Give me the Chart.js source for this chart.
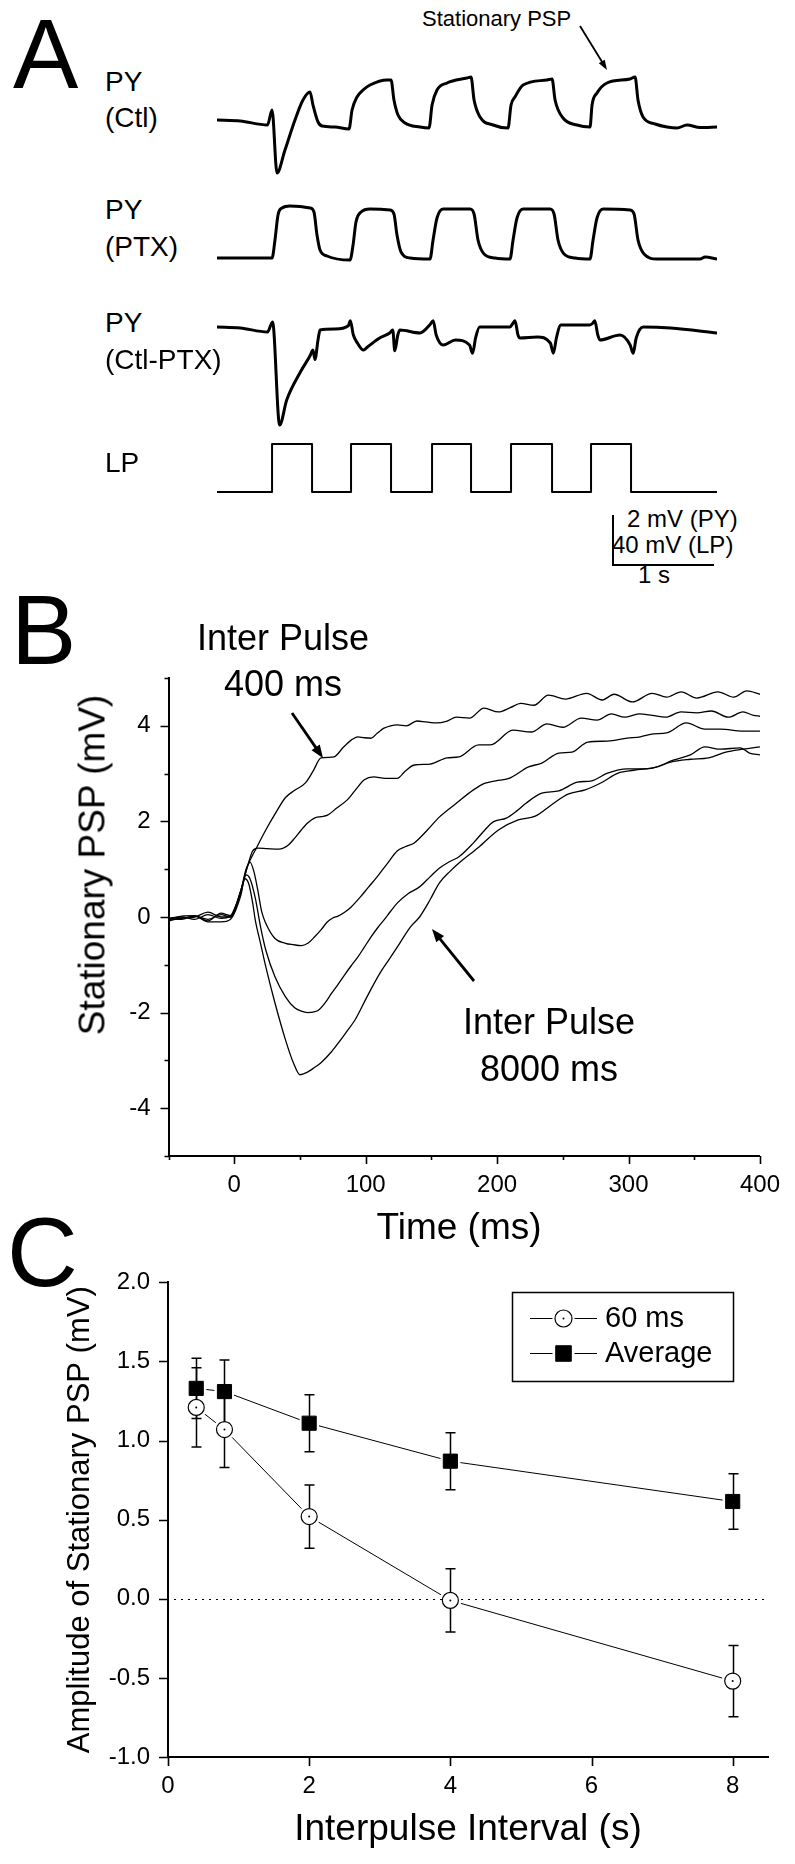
<!DOCTYPE html>
<html>
<head>
<meta charset="utf-8">
<script src="https://cdn.jsdelivr.net/npm/chart.js@4.4.0/dist/chart.umd.min.js"></script>
<style>
html,body{margin:0;padding:0;background:#fff;}
body{width:795px;height:1864px;position:relative;overflow:hidden;font-family:"Liberation Sans",Arial,Helvetica,sans-serif;color:#000;}
canvas{position:absolute;}
.t{position:absolute;white-space:nowrap;line-height:1;}
.c{transform:translateX(-50%);}
svg{position:absolute;left:0;top:0;}
</style>
</head>
<body>
<canvas id="aCtl" width="510" height="125" style="left:212px;top:65px"></canvas>
<canvas id="aPtx" width="510" height="85" style="left:212px;top:193px"></canvas>
<canvas id="aDiff" width="510" height="135" style="left:212px;top:302px"></canvas>
<canvas id="aLp" width="510" height="70" style="left:212px;top:432px"></canvas>
<canvas id="chartB" width="795" height="650" style="left:0;top:600px"></canvas>
<canvas id="chartC" width="795" height="614" style="left:0;top:1250px"></canvas>

<div class="t" style="left:13px;top:5px;font-size:98px">A</div>
<div class="t" style="left:11px;top:581px;font-size:98px">B</div>
<div class="t" style="left:7px;top:1203px;font-size:98px">C</div>

<div class="t" style="left:105px;top:68px;font-size:28px">PY</div>
<div class="t" style="left:105px;top:104px;font-size:28px">(Ctl)</div>
<div class="t" style="left:105px;top:196px;font-size:28px">PY</div>
<div class="t" style="left:105px;top:233px;font-size:28px">(PTX)</div>
<div class="t" style="left:105px;top:309px;font-size:28px">PY</div>
<div class="t" style="left:105px;top:346px;font-size:28px">(Ctl-PTX)</div>
<div class="t" style="left:105px;top:449px;font-size:28px">LP</div>
<div class="t" style="left:422px;top:8px;font-size:22px">Stationary PSP</div>
<div class="t" style="left:627px;top:507px;font-size:24px">2 mV (PY)</div>
<div class="t" style="left:612px;top:533px;font-size:24px">40 mV (LP)</div>
<div class="t" style="left:638px;top:563px;font-size:24px">1 s</div>

<div class="t c" style="left:283px;top:620px;font-size:36px">Inter Pulse</div>
<div class="t c" style="left:283px;top:666px;font-size:36px">400 ms</div>
<div class="t c" style="left:549px;top:1004px;font-size:36px">Inter Pulse</div>
<div class="t c" style="left:549px;top:1051px;font-size:36px">8000 ms</div>
<div class="t" style="left:92px;top:865px;font-size:37px;transform:translate(-50%,-50%) rotate(-90deg)">Stationary PSP (mV)</div>
<div class="t c" style="left:459px;top:1208px;font-size:37px">Time (ms)</div>

<svg id="ov" width="795" height="1864"></svg>

<script>
// ================= DATA =================
// Panel A traces: [time (s), potential (mV, relative to rest)]
const TRACE_END = 4.95;
const pyCtl = [[0,0],[0.23,-0.04],[0.5,-0.2],[0.545,0.4],[0.594,-2.12],[0.673,-1.2],[0.772,0],[0.851,0.8],[0.921,1.12],[0.95,0.6],[1.0,-0.08],[1.04,-0.24],[1.168,-0.28],[1.307,-0.36],[1.337,0.4],[1.386,0.92],[1.446,1.2],[1.515,1.4],[1.683,1.6],[1.723,1.6],[1.752,0.8],[1.792,0.2],[1.861,-0.12],[2.01,-0.28],[2.099,-0.32],[2.129,0.6],[2.178,1.2],[2.277,1.48],[2.475,1.68],[2.515,1.72],[2.545,0.8],[2.604,0.12],[2.733,-0.2],[2.881,-0.32],[2.911,0.6],[2.95,0.92],[3.03,1.4],[3.267,1.6],[3.317,1.64],[3.347,0.8],[3.426,0.08],[3.564,-0.2],[3.693,-0.28],[3.713,0.6],[3.762,1.08],[3.861,1.48],[4.089,1.64],[4.139,1.72],[4.168,0.8],[4.218,0.12],[4.337,-0.16],[4.455,-0.28],[4.554,-0.32],[4.653,-0.2],[4.782,-0.3],[4.95,-0.28]];
const pyPtx = [[0,0],[0.545,0],[0.574,0.72],[0.604,1.72],[0.644,2.0],[0.723,2.08],[0.921,2.0],[0.96,1.84],[0.99,0.92],[1.02,0.32],[1.089,0.08],[1.317,-0.08],[1.347,0.52],[1.376,1.44],[1.426,1.84],[1.515,1.96],[1.713,1.92],[1.752,1.76],[1.782,0.92],[1.822,0.24],[1.911,0],[2.109,-0.04],[2.139,0.72],[2.178,1.6],[2.238,1.96],[2.505,1.96],[2.545,1.76],[2.584,0.72],[2.644,0.16],[2.752,0],[2.901,-0.04],[2.931,0.72],[2.97,1.6],[3.03,1.96],[3.297,1.96],[3.337,1.76],[3.376,0.72],[3.436,0.16],[3.545,0],[3.693,-0.04],[3.723,0.72],[3.762,1.6],[3.822,1.96],[4.089,1.92],[4.129,1.76],[4.168,0.72],[4.228,0.16],[4.356,-0.04],[4.782,-0.04],[4.832,0.04],[4.95,-0.04]];
const pyDiff = [[0,0],[0.23,-0.04],[0.5,-0.2],[0.55,0.2],[0.62,-3.92],[0.69,-2.92],[0.82,-1.84],[0.92,-1.16],[0.95,-0.92],[0.97,-1.3],[1.0,-0.52],[1.02,-0.12],[1.17,-0.08],[1.3,0.05],[1.32,0.25],[1.35,-0.32],[1.39,-0.64],[1.45,-0.92],[1.49,-0.8],[1.61,-0.44],[1.71,-0.24],[1.74,-0.12],[1.76,-0.95],[1.79,-0.32],[1.81,-0.12],[2.01,-0.24],[2.11,0.1],[2.14,0.25],[2.17,-0.32],[2.24,-0.72],[2.36,-0.52],[2.5,-0.72],[2.53,-1.05],[2.56,-0.44],[2.6,0],[2.9,0],[2.93,0.15],[2.95,0.25],[2.98,-0.32],[3.0,-0.44],[3.17,-0.4],[3.3,-0.64],[3.33,-1.05],[3.36,-0.44],[3.4,0.08],[3.69,0.08],[3.72,0.15],[3.74,0.25],[3.77,-0.32],[3.79,-0.52],[3.99,-0.32],[4.09,-0.72],[4.12,-1.05],[4.15,-0.44],[4.22,0],[4.49,-0.04],[4.95,-0.24]];
const lpOnsets  = [0.545, 1.327, 2.129, 2.911, 3.703];
const lpOffsets = [0.941, 1.723, 2.515, 3.317, 4.099];
const lpAmp = 38.4;

// Panel B: [time (ms), stationary PSP (mV)] for each inter-pulse interval
const ip400 = [[-50,-0.05],[-40,-0.03],[-30,0.02],[-20,-0.05],[-10,0.05],[-3,0],[5,0.55],[10,1.05],[17,1.45],[24,1.82],[32,2.2],[39,2.5],[46,2.65],[54,2.8],[60,3.05],[66,3.33],[72,3.34],[76,3.35],[83,3.55],[89,3.7],[94,3.77],[99,3.75],[104,3.74],[109,3.85],[114,3.95],[119,4.0],[124,4.02],[131,4.0],[139,4.1],[146,4.08],[154,4.06],[162,4.1],[169,4.18],[179,4.16],[190,4.37],[201,4.29],[210,4.38],[218,4.47],[228,4.43],[239,4.64],[252,4.56],[268,4.68],[280,4.54],[289,4.66],[303,4.5],[318,4.68],[329,4.6],[340,4.71],[352,4.58],[368,4.71],[380,4.6],[390,4.73],[400,4.66]];
const ip800 = [[-50,-0.02],[-40,0],[-30,-0.05],[-20,0.05],[-10,-0.03],[-3,0.02],[5,0.55],[10,1.05],[14,1.38],[18,1.44],[25,1.43],[34,1.42],[41,1.5],[46,1.65],[51,1.82],[56,1.97],[61,2.07],[66,2.1],[71,2.13],[78,2.28],[86,2.45],[92,2.65],[99,2.87],[106,2.93],[115,2.9],[124,2.9],[130,3.05],[137,3.18],[149,3.2],[162,3.33],[171,3.35],[186,3.6],[195,3.6],[212,3.91],[226,3.87],[238,4.04],[250,3.97],[264,4.16],[276,4.12],[287,4.25],[297,4.18],[308,4.25],[318,4.22],[328,4.18],[340,4.29],[352,4.27],[363,4.31],[376,4.18],[387,4.29],[395,4.22],[400,4.2]];
const ip2000 = [[-50,-0.05],[-40,0.02],[-30,0.03],[-20,-0.08],[-10,0.08],[-3,0.03],[5,0.55],[9,1.0],[12,1.15],[15,0.95],[18,0.55],[21,0.1],[24,-0.13],[31,-0.45],[39,-0.55],[45,-0.58],[51,-0.6],[56,-0.55],[61,-0.42],[66,-0.27],[71,-0.1],[75,-0.02],[79,0.02],[84,0.1],[89,0.21],[96,0.42],[102,0.62],[109,0.85],[116,1.1],[124,1.38],[130,1.47],[137,1.55],[147,1.82],[156,2.09],[169,2.38],[182,2.66],[191,2.8],[199,2.85],[209,2.9],[224,3.14],[234,3.22],[247,3.43],[257,3.45],[269,3.66],[284,3.68],[299,3.74],[309,3.77],[319,3.83],[329,3.85],[344,4.06],[358,3.93],[370,3.93],[387,3.89],[400,3.89]];
const ip4000 = [[-50,-0.08],[-40,-0.02],[-30,0],[-20,0.1],[-10,0],[-3,0],[5,0.5],[9,0.88],[12,0.8],[16,0.4],[20,-0.2],[24,-0.69],[31,-1.25],[39,-1.67],[46,-1.9],[51,-1.97],[56,-2.0],[60,-1.99],[64,-1.95],[69,-1.8],[74,-1.6],[79,-1.41],[84,-1.21],[89,-1.02],[94,-0.84],[99,-0.63],[104,-0.42],[109,-0.23],[114,-0.06],[119,0.12],[124,0.29],[132,0.48],[141,0.63],[149,0.84],[156,1.02],[164,1.16],[171,1.26],[182,1.55],[190,1.8],[197,1.99],[207,2.07],[215,2.22],[222,2.38],[234,2.59],[247,2.64],[261,2.82],[272,2.85],[284,3.01],[299,3.1],[310,3.1],[319,3.12],[334,3.28],[347,3.39],[358,3.56],[370,3.51],[385,3.54],[392,3.43],[400,3.39]];
const ip8000 = [[-50,-0.03],[-40,-0.05],[-30,0.02],[-20,-0.1],[-10,-0.1],[-3,-0.05],[5,0.45],[8,0.8],[11,0.7],[14,0.3],[16,-0.06],[20,-0.55],[24,-1.04],[31,-1.8],[39,-2.57],[45,-3.05],[50,-3.3],[56,-3.24],[61,-3.15],[66,-3.05],[74,-2.82],[81,-2.57],[86,-2.38],[92,-2.15],[101,-1.67],[111,-1.17],[118,-0.88],[124,-0.63],[134,-0.21],[141,0],[149,0.36],[156,0.71],[164,0.95],[171,1.13],[186,1.46],[201,1.82],[216,2.03],[229,2.11],[242,2.36],[254,2.57],[267,2.66],[280,2.82],[292,3.01],[304,3.07],[322,3.14],[332,3.24],[347,3.3],[361,3.33],[374,3.45],[387,3.51],[400,3.56]];

// Panel C
const intervals = [0.4, 0.8, 2, 4, 8];
const amp60  = [1.21, 1.07, 0.52, -0.01, -0.52];
const err60  = [0.25, 0.24, 0.20, 0.20, 0.225];
const ampAvg = [1.33, 1.31, 1.11, 0.87, 0.615];
const errAvg = [0.19, 0.20, 0.18, 0.18, 0.175];
const seriesLabels = ['60 ms', 'Average'];

// ================= CHARTS =================
const FONT = '"Liberation Sans", Arial, Helvetica, sans-serif';
Chart.defaults.font.family = FONT;
Chart.defaults.color = '#000';
Chart.defaults.animation = false;

const isMult = (v, s) => Math.abs(v / s - Math.round(v / s)) < 1e-6;

function traceChart(id, pts, vmin, vmax, width, smooth) {
  return new Chart(document.getElementById(id), {
    type: 'line',
    data: { datasets: [{ data: pts.map(p => ({ x: p[0], y: p[1] })), borderColor: '#000',
      borderWidth: width, pointRadius: 0, fill: false, tension: smooth ? 0.3 : 0,
      cubicInterpolationMode: smooth ? 'monotone' : 'default', borderJoinStyle: 'round' }] },
    options: { responsive: false, maintainAspectRatio: false, devicePixelRatio: 1, animation: false, events: [],
      layout: { padding: 5 },
      plugins: { legend: { display: false }, tooltip: { enabled: false } },
      scales: { x: { type: 'linear', display: false, min: 0, max: TRACE_END },
                y: { type: 'linear', display: false, min: vmin, max: vmax } } }
  });
}
traceChart('aCtl', pyCtl, -2.6, 2.0, 3, true);
traceChart('aPtx', pyPtx, -0.6, 2.4, 3, true);
traceChart('aDiff', pyDiff, -4.2, 0.8, 3, true);
const lpPts = [[0, 0]];
lpOnsets.forEach((on, i) => { lpPts.push([on, 0], [on, lpAmp], [lpOffsets[i], lpAmp], [lpOffsets[i], 0]); });
lpPts.push([TRACE_END, 0]);
traceChart('aLp', lpPts, -4, 44, 2, false);

// ticks plugin (major / minor tick marks, outward)
const axisTicks = {
  id: 'axisTicks',
  afterDraw(chart, args, o) {
    const { ctx, chartArea: { left, bottom } } = chart;
    const xs = chart.scales.x, ys = chart.scales.y;
    ctx.save(); ctx.strokeStyle = '#000'; ctx.lineWidth = o.width;
    ctx.beginPath();
    xs.ticks.forEach(t => {
      const len = isMult(t.value, o.xMajor) ? o.len : o.minorLen;
      if (!len) return;
      const px = Math.round(xs.getPixelForValue(t.value)) + 0.5;
      ctx.moveTo(px, bottom); ctx.lineTo(px, bottom + len);
    });
    ys.ticks.forEach(t => {
      const len = isMult(t.value, o.yMajor) ? o.len : o.minorLen;
      if (!len) return;
      const py = Math.round(ys.getPixelForValue(t.value)) + 0.5;
      ctx.moveTo(left, py); ctx.lineTo(left - len, py);
    });
    ctx.stroke(); ctx.restore();
  }
};

// Panel B
const bSeries = [ip400, ip800, ip2000, ip4000, ip8000];
const bLabels = ['400 ms', '800 ms', '2000 ms', '4000 ms', '8000 ms'];
new Chart(document.getElementById('chartB'), {
  type: 'line',
  data: { datasets: bSeries.map((s, i) => ({ label: bLabels[i], data: s.map(p => ({ x: p[0], y: p[1] })),
    borderColor: '#000', borderWidth: 1.3, pointRadius: 0, fill: false, tension: 0.35, cubicInterpolationMode: 'monotone' })) },
  plugins: [axisTicks],
  options: { responsive: false, maintainAspectRatio: false, devicePixelRatio: 1, animation: false, events: [],
    layout: { padding: { left: 108.5, top: 78, right: 27, bottom: 34 } },
    plugins: { legend: { display: false }, tooltip: { enabled: false },
      axisTicks: { width: 1.6, len: 8, minorLen: 4, xMajor: 100, yMajor: 2 } },
    scales: {
      x: { type: 'linear', min: -50, max: 400,
        afterFit: s => { s.height = 60; },
        grid: { display: false, drawTicks: false }, border: { display: true, color: '#000', width: 2 },
        ticks: { stepSize: 50, autoSkip: false, maxRotation: 0, padding: 15, font: { size: 24 },
          callback: v => isMult(v, 100) ? String(v) : '' } },
      y: { type: 'linear', min: -5, max: 5,
        afterFit: s => { s.width = 60; },
        grid: { display: false, drawTicks: false }, border: { display: true, color: '#000', width: 2 },
        ticks: { stepSize: 1, autoSkip: false, padding: 18, font: { size: 24 },
          callback: v => isMult(v, 2) ? String(v) : '' } }
    } }
});

// Panel C plugins
const zeroLine = {
  id: 'zeroLine',
  beforeDatasetsDraw(chart) {
    const { ctx, chartArea: { left, right } } = chart;
    const y = Math.round(chart.scales.y.getPixelForValue(0)) + 0.5;
    ctx.save(); ctx.strokeStyle = '#000'; ctx.lineWidth = 1.2; ctx.setLineDash([2, 5]);
    ctx.beginPath(); ctx.moveTo(left + 6, y); ctx.lineTo(right - 4, y); ctx.stroke(); ctx.restore();
  }
};
// connecting lines that stop short of the markers (Origin style)
const gapLines = {
  id: 'gapLines',
  beforeDatasetsDraw(chart, args, o) {
    const { ctx } = chart;
    ctx.save(); ctx.strokeStyle = '#000'; ctx.lineWidth = 1;
    chart.data.datasets.forEach((ds, i) => {
      const pts = chart.getDatasetMeta(i).data;
      const gap = ds.pointRadius * (ds.pointStyle === 'rect' ? 0.72 : 1) + o.gap;
      for (let k = 1; k < pts.length; k++) {
        const a = pts[k - 1], b = pts[k];
        const dx = b.x - a.x, dy = b.y - a.y, d = Math.hypot(dx, dy);
        if (d <= 2 * gap) continue;
        const ux = dx / d, uy = dy / d;
        ctx.beginPath(); ctx.moveTo(a.x + ux * gap, a.y + uy * gap); ctx.lineTo(b.x - ux * gap, b.y - uy * gap); ctx.stroke();
      }
    });
    ctx.restore();
  }
};
const errorBars = {
  id: 'errorBars',
  beforeDatasetsDraw(chart) {
    const { ctx } = chart; const xs = chart.scales.x, ys = chart.scales.y;
    ctx.save(); ctx.strokeStyle = '#000'; ctx.lineWidth = 1.5;
    chart.data.datasets.forEach(ds => {
      ds.data.forEach((p, j) => {
        const e = ds.errors[j];
        const x = Math.round(xs.getPixelForValue(p.x)) + 0.5;
        const y1 = ys.getPixelForValue(p.y + e), y2 = ys.getPixelForValue(p.y - e);
        ctx.beginPath();
        ctx.moveTo(x, y1); ctx.lineTo(x, y2);
        ctx.moveTo(x - 5, y1); ctx.lineTo(x + 5, y1);
        ctx.moveTo(x - 5, y2); ctx.lineTo(x + 5, y2);
        ctx.stroke();
      });
    });
    ctx.restore();
  }
};
const centerDots = {
  id: 'centerDots',
  afterDatasetsDraw(chart) {
    const { ctx } = chart;
    chart.data.datasets.forEach((ds, i) => {
      if (ds.pointStyle !== 'circle') return;
      chart.getDatasetMeta(i).data.forEach(pt => {
        ctx.save(); ctx.fillStyle = '#000'; ctx.beginPath(); ctx.arc(pt.x, pt.y, 1, 0, Math.PI * 2); ctx.fill(); ctx.restore();
      });
    });
  }
};
const boxLegend = {
  id: 'boxLegend',
  afterDraw(chart, args, o) {
    const { ctx } = chart;
    ctx.save();
    ctx.strokeStyle = '#000'; ctx.lineWidth = 1.5;
    ctx.strokeRect(o.left + 0.5, o.top + 0.5, o.width, o.height);
    chart.data.datasets.forEach((ds, i) => {
      const y = Math.round(o.top + o.rows[i]) + 0.5;
      const mx = o.left + o.markerX;
      ctx.lineWidth = 1; ctx.strokeStyle = '#000';
      ctx.beginPath();
      ctx.moveTo(o.left + o.lineFrom, y); ctx.lineTo(mx - 11, y);
      ctx.moveTo(mx + 11, y); ctx.lineTo(o.left + o.lineTo, y);
      ctx.stroke();
      ctx.fillStyle = ds.pointBackgroundColor; ctx.lineWidth = ds.pointBorderWidth;
      Chart.helpers.drawPoint(ctx, { pointStyle: ds.pointStyle, radius: ds.pointStyle === 'rect' ? 11 : 8.5, borderWidth: ds.pointBorderWidth, rotation: 0 }, mx, y);
      if (ds.pointStyle === 'circle') { ctx.fillStyle = '#000'; ctx.beginPath(); ctx.arc(mx, y, 1, 0, Math.PI * 2); ctx.fill(); }
      ctx.fillStyle = '#000'; ctx.font = '29px ' + FONT; ctx.textBaseline = 'middle'; ctx.textAlign = 'left';
      ctx.fillText(ds.label, o.left + o.textX, y);
    });
    ctx.restore();
  }
};

new Chart(document.getElementById('chartC'), {
  type: 'line',
  data: { datasets: [
    { label: seriesLabels[0], data: intervals.map((x, i) => ({ x, y: amp60[i] })), errors: err60, showLine: false,
      borderColor: '#000', borderWidth: 1, pointStyle: 'circle', pointRadius: 8,
      pointBackgroundColor: '#fff', pointBorderColor: '#000', pointBorderWidth: 1.2 },
    { label: seriesLabels[1], data: intervals.map((x, i) => ({ x, y: ampAvg[i] })), errors: errAvg, showLine: false,
      borderColor: '#000', borderWidth: 1, pointStyle: 'rect', pointRadius: 10,
      pointBackgroundColor: '#000', pointBorderColor: '#000', pointBorderWidth: 1 }
  ] },
  plugins: [zeroLine, gapLines, errorBars, centerDots, axisTicks, boxLegend],
  options: { responsive: false, maintainAspectRatio: false, devicePixelRatio: 1, animation: false, events: [],
    layout: { padding: { left: 64.5, top: 30, right: 27, bottom: 15.5 } },
    plugins: { legend: { display: false }, tooltip: { enabled: false },
      gapLines: { gap: 3 },
      axisTicks: { width: 1.6, len: 9, minorLen: 0, xMajor: 2, yMajor: 0.5 },
      boxLegend: { left: 512, top: 42, width: 221, height: 89, rows: [26, 61], lineFrom: 18, lineTo: 85, markerX: 51.5, textX: 93 } },
    scales: {
      x: { type: 'linear', min: 0, max: 8.5,
        afterFit: s => { s.height = 91.5; },
        grid: { display: false, drawTicks: false }, border: { display: true, color: '#000', width: 2 },
        title: { display: true, text: 'Interpulse Interval (s)', font: { size: 37, lineHeight: 1 }, padding: 0 },
        ticks: { stepSize: 2, includeBounds: false, autoSkip: false, maxRotation: 0, padding: 15, font: { size: 24 },
          callback: v => isMult(v, 2) ? String(v) : '' } },
      y: { type: 'linear', min: -1, max: 2,
        afterFit: s => { s.width = 103.5; },
        grid: { display: false, drawTicks: false }, border: { display: true, color: '#000', width: 2 },
        title: { display: true, text: 'Amplitude of Stationary PSP (mV)', font: { size: 31, lineHeight: 1 }, padding: 0 },
        ticks: { stepSize: 0.5, autoSkip: false, padding: 18, font: { size: 24 },
          callback: v => v.toFixed(1) } }
    } }
});

// ================= ANNOTATION ARROWS / SCALE BAR =================
const svg = document.getElementById('ov');
const NS = 'http://www.w3.org/2000/svg';
function el(name, attrs) { const e = document.createElementNS(NS, name); for (const k in attrs) e.setAttribute(k, attrs[k]); svg.appendChild(e); return e; }
function arrow(x1, y1, x2, y2, w, L, H) {
  const dx = x2 - x1, dy = y2 - y1, d = Math.hypot(dx, dy), ux = dx / d, uy = dy / d;
  const bx = x2 - ux * L, by = y2 - uy * L;
  el('line', { x1, y1, x2: bx + ux, y2: by + uy, stroke: '#000', 'stroke-width': w });
  el('polygon', { points: `${x2},${y2} ${bx - uy * H},${by + ux * H} ${bx + uy * H},${by - ux * H}`, fill: '#000' });
}
arrow(580, 26, 607, 70, 1.8, 10, 3.5);
arrow(292, 713, 323, 758, 2.8, 13, 5);
arrow(474, 981, 432, 929, 2.8, 13, 5);
// scale bar
el('polyline', { points: '613,515 613,565 714,565', fill: 'none', stroke: '#000', 'stroke-width': 2 });
</script>
</body>
</html>
